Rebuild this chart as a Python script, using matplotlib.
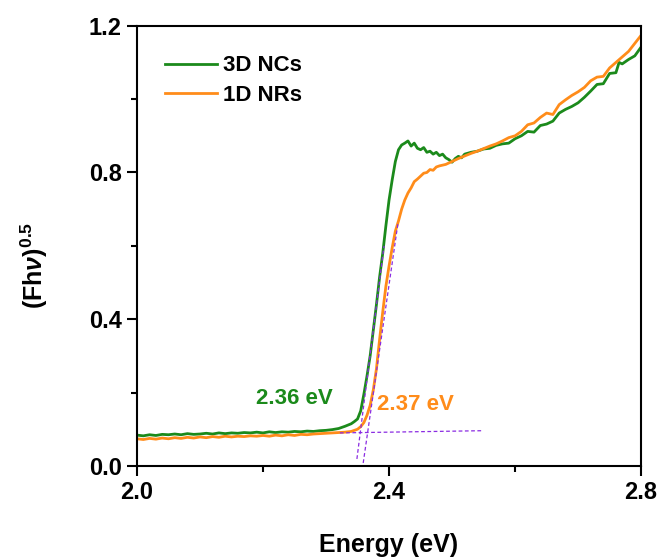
# -*- coding: UTF-8 -*-
# Tauc-type plot: (Fhv)^0.5 vs energy for 3D NCs and 1D NRs

import numpy as np
import matplotlib
matplotlib.use('Agg')
import matplotlib.pyplot as plt
from matplotlib.ticker import MultipleLocator, FormatStrFormatter


# Data
energy_nc = [2.000, 2.010, 2.020, 2.030, 2.040, 2.050, 2.060, 2.070, 2.080, 2.090,
             2.100, 2.110, 2.120, 2.130, 2.140, 2.150, 2.160, 2.170, 2.180, 2.190,
             2.200, 2.210, 2.220, 2.230, 2.240, 2.250, 2.260, 2.270, 2.280, 2.290,
             2.300, 2.310, 2.320, 2.330, 2.340, 2.345, 2.350, 2.355, 2.360, 2.365,
             2.370, 2.375, 2.380, 2.385, 2.390, 2.395, 2.400, 2.405, 2.410, 2.415,
             2.420, 2.425, 2.430, 2.435, 2.440, 2.445, 2.450, 2.455, 2.460, 2.465,
             2.470, 2.475, 2.480, 2.485, 2.490, 2.495, 2.500, 2.505, 2.510, 2.515,
             2.520, 2.530, 2.540, 2.550, 2.560, 2.570, 2.580, 2.590, 2.600, 2.610,
             2.620, 2.630, 2.640, 2.650, 2.660, 2.670, 2.680, 2.690, 2.700, 2.710,
             2.720, 2.730, 2.740, 2.750, 2.760, 2.765, 2.770, 2.780, 2.790, 2.800]
signal_nc = [0.084, 0.082, 0.085, 0.083, 0.086, 0.085, 0.087, 0.085, 0.088, 0.086,
             0.087, 0.089, 0.087, 0.090, 0.088, 0.090, 0.089, 0.091, 0.090, 0.092,
             0.090, 0.093, 0.091, 0.093, 0.092, 0.094, 0.093, 0.095, 0.094, 0.096,
             0.097, 0.099, 0.102, 0.108, 0.115, 0.121, 0.128, 0.150, 0.195, 0.245,
             0.300, 0.370, 0.440, 0.515, 0.580, 0.655, 0.725, 0.780, 0.830, 0.862,
             0.875, 0.880, 0.886, 0.872, 0.880, 0.866, 0.862, 0.868, 0.855, 0.858,
             0.850, 0.855, 0.846, 0.850, 0.840, 0.835, 0.828, 0.838, 0.844, 0.840,
             0.850, 0.855, 0.858, 0.864, 0.866, 0.874, 0.878, 0.880, 0.892, 0.900,
             0.912, 0.910, 0.928, 0.932, 0.940, 0.962, 0.972, 0.980, 0.990, 1.005,
             1.022, 1.040, 1.042, 1.070, 1.072, 1.100, 1.096, 1.108, 1.118, 1.142]

energy_nr = [2.000, 2.010, 2.020, 2.030, 2.040, 2.050, 2.060, 2.070, 2.080, 2.090,
             2.100, 2.110, 2.120, 2.130, 2.140, 2.150, 2.160, 2.170, 2.180, 2.190,
             2.200, 2.210, 2.220, 2.230, 2.240, 2.250, 2.260, 2.270, 2.280, 2.290,
             2.300, 2.310, 2.320, 2.330, 2.340, 2.350, 2.355, 2.360, 2.365, 2.370,
             2.375, 2.380, 2.385, 2.390, 2.395, 2.400, 2.405, 2.410, 2.415, 2.420,
             2.425, 2.430, 2.435, 2.440, 2.445, 2.450, 2.455, 2.460, 2.465, 2.470,
             2.475, 2.480, 2.490, 2.500, 2.510, 2.520, 2.530, 2.540, 2.550, 2.560,
             2.570, 2.580, 2.590, 2.600, 2.610, 2.620, 2.630, 2.640, 2.650, 2.660,
             2.670, 2.680, 2.690, 2.700, 2.710, 2.720, 2.730, 2.740, 2.750, 2.760,
             2.770, 2.780, 2.790, 2.800]
signal_nr = [0.074, 0.072, 0.075, 0.073, 0.076, 0.074, 0.077, 0.075, 0.078, 0.076,
             0.079, 0.077, 0.080, 0.078, 0.081, 0.079, 0.081, 0.080, 0.082, 0.081,
             0.083, 0.081, 0.084, 0.082, 0.085, 0.083, 0.086, 0.085, 0.087, 0.088,
             0.089, 0.090, 0.091, 0.092, 0.094, 0.100, 0.107, 0.118, 0.138, 0.165,
             0.207, 0.265, 0.345, 0.420, 0.490, 0.545, 0.595, 0.640, 0.668, 0.700,
             0.725, 0.744, 0.758, 0.775, 0.782, 0.790, 0.798, 0.800, 0.808, 0.806,
             0.815, 0.818, 0.822, 0.830, 0.838, 0.845, 0.852, 0.858, 0.865, 0.872,
             0.878, 0.886, 0.895, 0.900, 0.912, 0.930, 0.935, 0.950, 0.962, 0.958,
             0.985, 0.998, 1.010, 1.020, 1.032, 1.050, 1.060, 1.062, 1.085, 1.100,
             1.115, 1.130, 1.152, 1.174]

# Fit lines (baseline and the two tangents)
base_x = [2.322, 2.548]
base_y = [0.090, 0.096]
tan_nc_x = [2.349, 2.392]
tan_nc_y = [0.019, 0.600]
tan_nr_x = [2.359, 2.414]
tan_nr_y = [0.008, 0.660]

labels = ['3D NCs', '1D NRs']
gap_labels = ['2.36 eV', '2.37 eV']
gap_pos_x = [2.189, 2.381]
gap_pos_y = [0.169, 0.153]

green = '#1b8a1b'
orange = '#ff8c1a'
violet = '#8a2be2'

plt.rcParams['font.family'] = ['Liberation Sans', 'DejaVu Sans']
plt.rcParams['font.weight'] = 'bold'
plt.rcParams['mathtext.fontset'] = 'custom'
plt.rcParams['mathtext.rm'] = 'Liberation Sans:bold'
plt.rcParams['mathtext.bf'] = 'Liberation Sans:bold'
plt.rcParams['mathtext.it'] = 'Liberation Sans:italic'

fig = plt.figure(figsize=(6.63, 5.6), dpi=100)
ax = fig.add_axes([0.2066, 0.168, 0.7604, 0.786])

ax.plot(energy_nc, signal_nc, color=green, lw=2.0, label=labels[0])
ax.plot(energy_nr, signal_nr, color=orange, lw=2.0, label=labels[1])
ax.plot(base_x, base_y, color=violet, lw=0.9, ls=(0, (3, 2)))
ax.plot(tan_nc_x, tan_nc_y, color=violet, lw=0.9, ls=(0, (3, 2)))
ax.plot(tan_nr_x, tan_nr_y, color=violet, lw=0.9, ls=(0, (3, 2)))

ax.text(gap_pos_x[0], gap_pos_y[0], gap_labels[0], color=green, fontsize=16, fontweight='bold', va='baseline')
ax.text(gap_pos_x[1], gap_pos_y[1], gap_labels[1], color=orange, fontsize=16, fontweight='bold', va='baseline')

ax.set_xlim(2.0, 2.8)
ax.set_ylim(0.0, 1.2)
ax.xaxis.set_major_locator(MultipleLocator(0.4))
ax.xaxis.set_minor_locator(MultipleLocator(0.2))
ax.yaxis.set_major_locator(MultipleLocator(0.4))
ax.yaxis.set_minor_locator(MultipleLocator(0.2))
ax.xaxis.set_major_formatter(FormatStrFormatter('%.1f'))
ax.yaxis.set_major_formatter(FormatStrFormatter('%.1f'))
ax.tick_params(which='major', direction='out', length=7, width=1.5, labelsize=17, pad=4)
ax.tick_params(which='minor', direction='out', length=4, width=1.5)
for spine in ax.spines.values():
    spine.set_linewidth(1.5)

ax.set_xlabel('Energy (eV)', fontsize=18, fontweight='bold')
ax.xaxis.set_label_coords(0.5, -0.152)
ax.set_ylabel(r'$\mathbf{(Fh}\nu\mathbf{)}^{\mathbf{0.5}}$', fontsize=18)
ax.yaxis.set_label_coords(-0.173, 0.455)

ax.legend(loc='upper left', bbox_to_anchor=(0.038, 0.953), borderaxespad=0, frameon=False,
          fontsize=16, handlelength=2.35, handletextpad=0.25, labelspacing=0.4)

plt.savefig('out.png', dpi=100)
plt.close('all')
